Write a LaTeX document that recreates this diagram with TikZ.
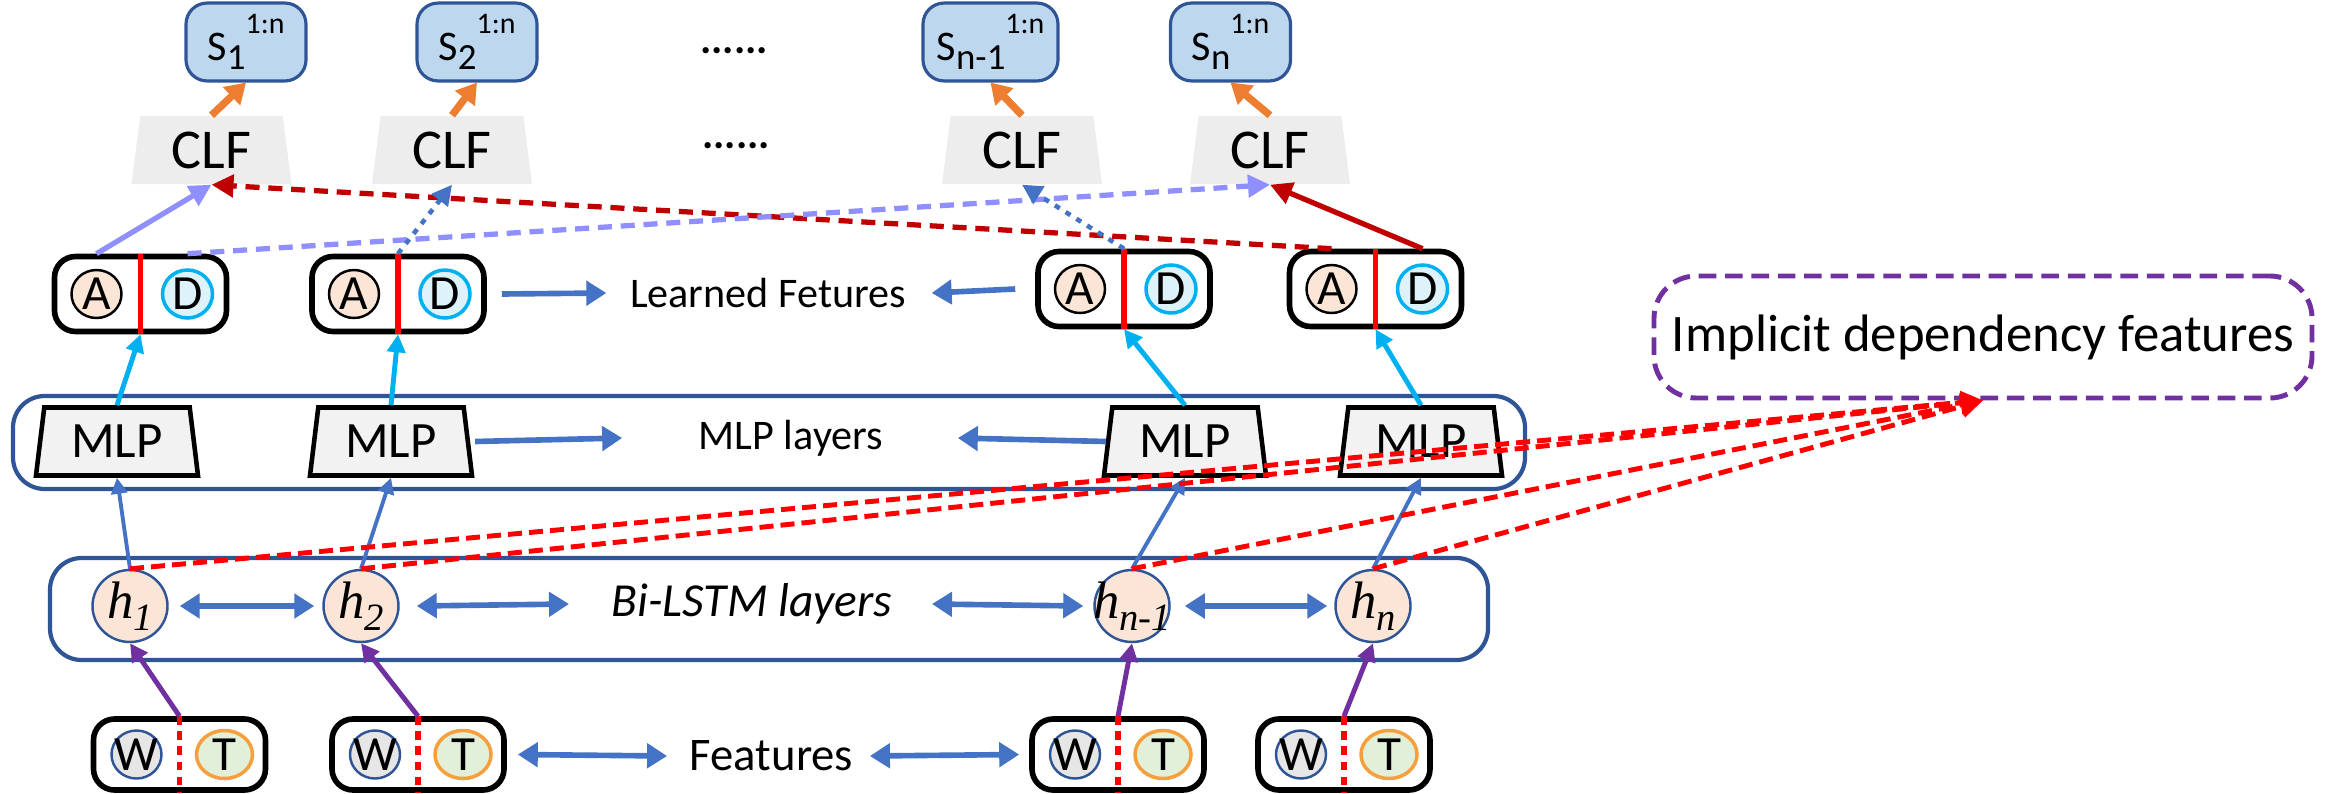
\documentclass[tikz,border=0pt]{standalone}
\usepackage{fontspec}
\setmainfont{Carlito}
\newfontfamily\hfont{Liberation Serif}
\usepackage{tikz}
\usetikzlibrary{arrows.meta,positioning,shapes.geometric,calc}
\definecolor{darkblue}{HTML}{2F5597}
\definecolor{sfill}{HTML}{BDD7EE}
\definecolor{clfgray}{HTML}{EDEDED}
\definecolor{mlpgray}{HTML}{F2F2F2}
\definecolor{afill}{HTML}{FBE5D6}
\definecolor{dfill}{HTML}{DEF2FA}
\definecolor{dcyan}{HTML}{00B0F0}
\definecolor{wfill}{HTML}{E7E6E6}
\definecolor{tfill}{HTML}{E2F0D9}
\definecolor{torange}{HTML}{F5A03C}
\definecolor{arrorange}{HTML}{ED7D31}
\definecolor{flowblue}{HTML}{4472C4}
\definecolor{implpurple}{HTML}{7030A0}
\definecolor{lavender}{HTML}{8F8FFF}
\definecolor{darkred}{HTML}{C00000}
\newcommand{\slab}[1]{S\raisebox{-0.45ex}{\fontsize{10.5}{10}\selectfont #1}\raisebox{1.3ex}{\fontsize{8.5}{8}\selectfont 1:n}}
\newcommand{\hlab}[1]{{\hfont\itshape\fontsize{15}{15}\selectfont h\raisebox{-0.5ex}{\fontsize{11}{11}\selectfont #1}}}

\begin{document}
\begin{tikzpicture}[
  sbox/.style={draw=darkblue, fill=sfill, line width=0.9pt, rounded corners=6pt, minimum width=1.2cm, minimum height=0.68cm, inner xsep=2pt, font=\fontsize{12}{14}\selectfont},
  clf/.style={trapezium, trapezium stretches body, trapezium left angle=76.8, trapezium right angle=76.8, fill=clfgray, minimum width=1.6cm, minimum height=0.68cm, inner sep=0pt, font=\fontsize{16}{18}\selectfont},
  mlp/.style={trapezium, trapezium stretches body, trapezium left angle=75.8, trapezium right angle=75.8, draw, line width=1.3pt, fill=mlpgray, minimum width=1.62cm, minimum height=0.68cm, inner sep=0pt, font=\fontsize{14.5}{16}\selectfont},
  pairbox/.style={draw, line width=1.6pt, rounded corners=6pt, fill=white, minimum width=1.72cm, minimum height=0.75cm},
  circA/.style={ellipse, draw=black, line width=0.7pt, fill=afill, minimum width=0.5cm, minimum height=0.48cm, inner sep=0pt, label={[font=\fontsize{14}{14}\selectfont, inner sep=0pt]center:#1}},
  circD/.style={circA=#1, draw=dcyan, line width=1pt, fill=dfill},
  circW/.style={circA=#1, draw=darkblue, fill=wfill},
  circT/.style={circA=#1, draw=torange, line width=1pt, fill=tfill, minimum width=0.56cm},
  hnode/.style={ellipse, draw=darkblue, line width=0.7pt, fill=afill, minimum width=0.75cm, minimum height=0.72cm, inner sep=0pt, label={[inner sep=0pt]center:#1}},
  band/.style={draw=darkblue, line width=1.2pt, rounded corners=9pt},
  lab/.style={inner sep=0pt, font=\fontsize{12}{14}\selectfont},
  redbar/.style={red, line width=1.6pt},
  reddots/.style={red, line width=1.6pt, dash pattern=on 2.5pt off 1.8pt},
  orangearr/.style={-{Triangle[length=0.2cm,width=0.24cm]}, line width=2.1pt, arrorange},
  cyanarr/.style={-{Triangle[length=0.18cm,width=0.18cm]}, line width=1.4pt, dcyan},
  bluearr/.style={-{Triangle[length=0.16cm,width=0.16cm]}, line width=1.1pt, flowblue},
  purplearr/.style={-{Triangle[length=0.18cm,width=0.18cm]}, line width=1.4pt, implpurple},
  flow/.style={-{Triangle[length=0.2cm,width=0.24cm]}, line width=1.6pt, flowblue},
  twoway/.style={{Triangle[length=0.2cm,width=0.24cm]}-{Triangle[length=0.2cm,width=0.24cm]}, line width=1.6pt, flowblue},
  lavarr/.style={-{Triangle[length=0.22cm,width=0.22cm]}, line width=1.5pt, lavender},
  dotarr/.style={-{Triangle[length=0.2cm,width=0.2cm]}, line width=1.3pt, flowblue, dash pattern=on 1.6pt off 2pt},
  redarr/.style={-{Triangle[length=0.22cm,width=0.22cm]}, line width=1.5pt, darkred},
  impldash/.style={-{Triangle[length=0.22cm,width=0.22cm]}, line width=1.4pt, red, dash pattern=on 4pt off 2pt}
]
  \useasboundingbox (0,0) rectangle (23.33,7.93);

  \node[band, minimum width=15.12cm, minimum height=0.93cm] (mlpband) at (7.69,3.505) {};
  \node[band, minimum width=14.38cm, minimum height=1.02cm] (lstmband) at (7.69,1.84) {};
  \node[draw=implpurple, line width=1.4pt, dash pattern=on 5pt off 2.5pt, rounded corners=12pt, minimum width=6.58cm, minimum height=1.22cm, font=\fontsize{15}{18}\selectfont] (impl) at (19.83,4.56) {Implicit dependency features};

  \node[sbox] (s1) at (2.46,7.51) {\slab{1}};
  \node[sbox] (s2) at (4.77,7.51) {\slab{2}};
  \node[sbox, minimum width=1.35cm] (s3) at (9.905,7.51) {\slab{n-1}};
  \node[sbox] (s4) at (12.305,7.51) {\slab{n}};
  \node[font=\fontsize{12}{12}\selectfont\bfseries] (dots1) at (7.34,7.42) {......};
  \node[font=\fontsize{12}{12}\selectfont\bfseries] (dots2) at (7.36,6.47) {......};

  \node[clf] (clf1) at (2.115,6.43) {CLF};
  \node[clf] (clf2) at (4.52,6.43) {CLF};
  \node[clf] (clf3) at (10.22,6.43) {CLF};
  \node[clf] (clf4) at (12.70,6.43) {CLF};

  \node[pairbox] (ad1) at (1.405,4.99) {};
  \node[pairbox] (ad2) at (3.98,4.99) {};
  \node[pairbox] (ad3) at (11.24,5.04) {};
  \node[pairbox] (ad4) at (13.755,5.04) {};
  \draw[redbar] (ad1.north) -- (ad1.south);
  \draw[redbar] (ad2.north) -- (ad2.south);
  \draw[redbar] (ad3.north) -- (ad3.south);
  \draw[redbar] (ad4.north) -- (ad4.south);
  \node[circA=A] (a1) at ([xshift=-0.44cm]ad1.center) {};
  \node[circD=D] (d1) at ([xshift=0.47cm]ad1.center) {};
  \node[circA=A] (a2) at ([xshift=-0.44cm]ad2.center) {};
  \node[circD=D] (d2) at ([xshift=0.47cm]ad2.center) {};
  \node[circA=A] (a3) at ([xshift=-0.44cm]ad3.center) {};
  \node[circD=D] (d3) at ([xshift=0.47cm]ad3.center) {};
  \node[circA=A] (a4) at ([xshift=-0.44cm]ad4.center) {};
  \node[circD=D] (d4) at ([xshift=0.47cm]ad4.center) {};
  \node[lab] (learned) at (7.68,5.00) {Learned Fetures};

  \node[mlp] (mlp1) at (1.17,3.515) {MLP};
  \node[mlp] (mlp2) at (3.91,3.515) {MLP};
  \node[mlp] (mlp3) at (11.85,3.515) {MLP};
  \node[mlp] (mlp4) at (14.21,3.515) {MLP};
  \node[lab] (mlplab) at (7.91,3.55) {MLP layers};

  \node[hnode={\hlab{1}}] (h1) at (1.30,1.87) {};
  \node[hnode={\hlab{2}}] (h2) at (3.61,1.87) {};
  \node[hnode={\hlab{n-1}}] (hn1) at (11.32,1.87) {};
  \node[hnode={\hlab{n}}] (hn) at (13.73,1.87) {};
  \node[lab, font=\fontsize{13.5}{16}\selectfont\itshape] (lstmlab) at (7.52,1.89) {Bi-LSTM layers};

  \node[pairbox, minimum height=0.71cm] (wt1) at (1.795,0.385) {};
  \node[pairbox, minimum height=0.71cm] (wt2) at (4.18,0.385) {};
  \node[pairbox, minimum height=0.71cm] (wt3) at (11.18,0.385) {};
  \node[pairbox, minimum height=0.71cm] (wt4) at (13.44,0.385) {};
  \draw[reddots] (wt1.north) -- (wt1.south);
  \draw[reddots] (wt2.north) -- (wt2.south);
  \draw[reddots] (wt3.north) -- (wt3.south);
  \draw[reddots] (wt4.north) -- (wt4.south);
  \node[circW=W] (w1) at ([xshift=-0.43cm]wt1.center) {};
  \node[circT=T] (t1) at ([xshift=0.45cm]wt1.center) {};
  \node[circW=W] (w2) at ([xshift=-0.43cm]wt2.center) {};
  \node[circT=T] (t2) at ([xshift=0.45cm]wt2.center) {};
  \node[circW=W] (w3) at ([xshift=-0.43cm]wt3.center) {};
  \node[circT=T] (t3) at ([xshift=0.45cm]wt3.center) {};
  \node[circW=W] (w4) at ([xshift=-0.43cm]wt4.center) {};
  \node[circT=T] (t4) at ([xshift=0.45cm]wt4.center) {};
  \node[lab, font=\fontsize{13.3}{16}\selectfont] (featlab) at (7.715,0.37) {Features};

  \draw[orangearr] (clf1.north) -- (s1.south);
  \draw[orangearr] (clf2.north) -- (s2.south);
  \draw[orangearr] (clf3.north) -- (s3.south);
  \draw[orangearr] (clf4.north) -- (s4.south);

  \draw[redarr, dash pattern=on 4pt off 2.5pt] (a4 |- ad4.north) -- (clf1.south);
  \draw[lavarr, dash pattern=on 4pt off 2.5pt] (d1 |- ad1.north) -- (clf4.south);
  \draw[lavarr] (a1 |- ad1.north) -- (clf1.south);
  \draw[dotarr] (ad2.north) -- (clf2.south);
  \draw[dotarr] (ad3.north) -- (clf3.south);
  \draw[redarr] (d4 |- ad4.north) -- (clf4.south);

  \draw[flow] ([xshift=0.15cm]ad2.east) -- ([xshift=-0.23cm]learned.west);
  \draw[flow] ([xshift=-0.2cm]ad3.west) -- ([xshift=0.25cm]learned.east);
  \draw[flow] ([xshift=0.05cm]mlp2.east) -- ([xshift=-0.76cm]mlplab.west);
  \draw[flow] (mlp3.west) -- ([xshift=0.74cm]mlplab.east);

  \draw[cyanarr] (mlp1.north) -- (ad1.south);
  \draw[cyanarr] (mlp2.north) -- (ad2.south);
  \draw[cyanarr] (mlp3.north) -- (ad3.south);
  \draw[cyanarr] (mlp4.north) -- (ad4.south);

  \draw[bluearr] (h1.north) -- (mlp1.south);
  \draw[bluearr] (h2.north) -- (mlp2.south);
  \draw[bluearr] (hn1.north) -- (mlp3.south);
  \draw[bluearr] (hn.north) -- (mlp4.south);

  \draw[twoway] ([xshift=0.11cm]h1.east) -- ([xshift=-0.08cm]h2.west);
  \draw[twoway] ([xshift=0.17cm]h2.east) -- ([xshift=-0.42cm]lstmlab.west);
  \draw[twoway] ([xshift=0.39cm]lstmlab.east) -- ([xshift=-0.1cm]hn1.west);
  \draw[twoway] ([xshift=0.14cm]hn1.east) -- ([xshift=-0.07cm]hn.west);

  \draw[purplearr] (wt1.north) -- (h1.south);
  \draw[purplearr] (wt2.north) -- (h2.south);
  \draw[purplearr] (wt3.north) -- (hn1.south);
  \draw[purplearr] (wt4.north) -- (hn.south);

  \draw[twoway] ([xshift=0.11cm]wt2.east) -- ([xshift=-0.22cm]featlab.west);
  \draw[twoway] ([xshift=0.16cm]featlab.east) -- ([xshift=-0.1cm]wt3.west);

  \draw[impldash] (h1.north) -- (impl.south);
  \draw[impldash] (h2.north) -- (impl.south);
  \draw[impldash] (hn1.north) -- (impl.south);
  \draw[impldash] (hn.north) -- (impl.south);
\end{tikzpicture}
\end{document}
